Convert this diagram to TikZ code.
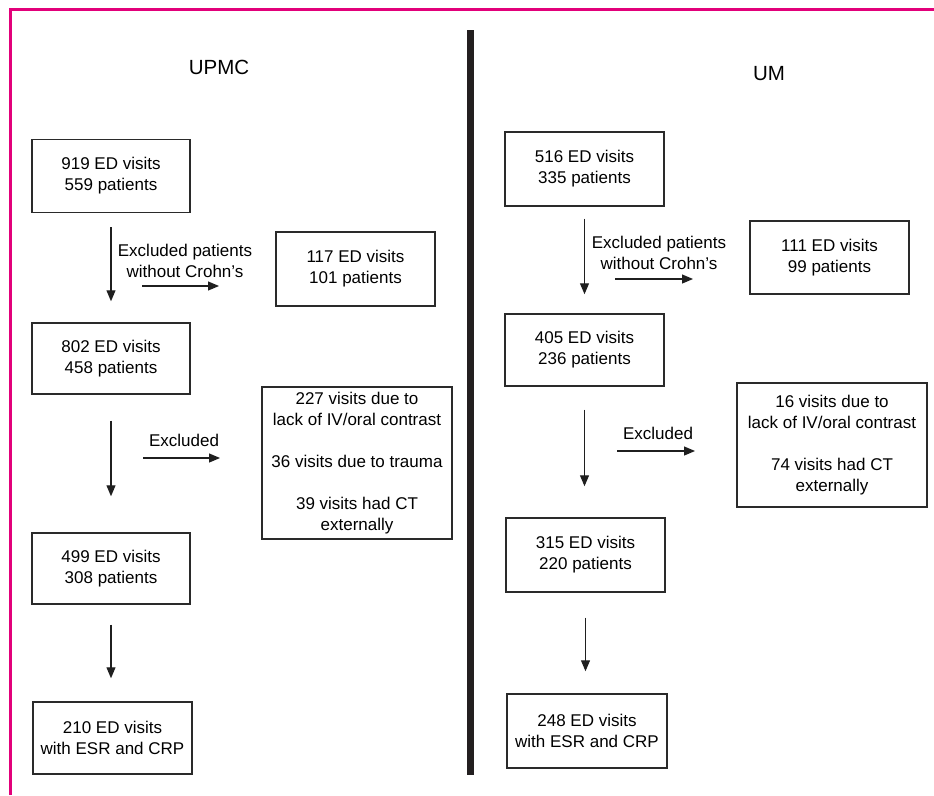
\documentclass[tikz,border=0pt]{standalone}
\usepackage{fontspec}
\setmainfont{Liberation Sans}
\usetikzlibrary{arrows.meta}
\definecolor{framepink}{HTML}{E2007A}
\definecolor{bardark}{HTML}{231F20}
\definecolor{boxline}{HTML}{2A2A2A}
\tikzset{
  flowbox/.style={draw=boxline, line width=1.5pt, minimum width=158pt, minimum height=73pt, inner sep=0pt, align=center, font=\fontsize{17}{21}\selectfont},
  bigbox/.style={flowbox, minimum width=190pt},
  lbl/.style={align=center, inner sep=0pt, font=\fontsize{17}{21}\selectfont},
  ttl/.style={inner sep=0pt, font=\fontsize{20.5}{24}\selectfont},
  arr/.style={-{Triangle[length=11pt,width=9pt]}, line width=1.2pt, draw=black!88, fill=black!88}
}
\begin{document}
\begin{tikzpicture}[x=1pt,y=-1pt]
\useasboundingbox (0,0) rectangle (934,795);
\fill[white] (0,0) rectangle (934,795);
% frame
\draw[framepink, line width=3pt] (10,795) -- (10,9) -- (934,9);
% divider
\fill[bardark] (466.5,30) rectangle (473.5,775);
% titles
\node[ttl] (tUPMC) at (219,67) {UPMC};
\node[ttl] (tUM) at (769,74) {UM};
% left column
\node[flowbox] (L1) at (111,176) {919 ED visits\\559 patients};
\node[flowbox, minimum width=159pt, minimum height=74pt] (L2) at (355.5,269) {117 ED visits\\101 patients};
\node[flowbox, minimum height=71pt] (L3) at (111,358.5) {802 ED visits\\458 patients};
\node[bigbox, minimum height=152pt] (L4) at (357,463) {227 visits due to\\lack of IV/oral contrast\\[21pt]36 visits due to trauma\\[21pt]39 visits had CT\\externally};
\node[flowbox, minimum height=71pt] (L5) at (111,568.5) {499 ED visits\\308 patients};
\node[flowbox, minimum width=159pt, minimum height=72pt] (L6) at (112.5,738) {210 ED visits\\with ESR and CRP};
% right column
\node[flowbox, minimum width=159pt, minimum height=74pt] (R1) at (584.5,169) {516 ED visits\\335 patients};
\node[flowbox, minimum width=159pt, minimum height=73pt] (R2) at (829.5,257.5) {111 ED visits\\99 patients};
\node[flowbox, minimum width=159pt, minimum height=72pt] (R3) at (584.5,350) {405 ED visits\\236 patients};
\node[bigbox, minimum height=124pt] (R4) at (832,445) {16 visits due to\\lack of IV/oral contrast\\[21pt]74 visits had CT\\externally};
\node[flowbox, minimum width=159pt, minimum height=74pt] (R5) at (585.5,555) {315 ED visits\\220 patients};
\node[flowbox, minimum width=160pt, minimum height=74pt] (R6) at (587,731) {248 ED visits\\with ESR and CRP};
% left arrows
\draw[arr, shorten <=14pt, shorten >=21pt] (L1.south) -- (L1.south |- L3.north);
\draw[arr, shorten <=26pt, shorten >=36pt] (L3.south) -- (L3.south |- L5.north);
\draw[arr, shorten <=20pt, shorten >=23pt] (L5.south) -- (L5.south |- L6.north);
\node[lbl] (lx1) at (185,260.5) {Excluded patients\\without Crohn's};
\coordinate (la1) at (142,286);
\coordinate (lb1) at (219,286);
\draw[arr] (la1) -- (lb1);
\node[lbl] (lx2) at (184,440) {Excluded};
\coordinate (la2) at (143,458);
\coordinate (lb2) at (220,458);
\draw[arr] (la2) -- (lb2);
% right arrows
\draw[arr, shorten <=12pt, shorten >=19pt] (R1.south) -- (R1.south |- R3.north);
\draw[arr, shorten <=23pt, shorten >=31pt] (R3.south) -- (R3.south |- R5.north);
\draw[arr, shorten <=25pt, shorten >=22pt] (R5.south) -- (R5.south |- R6.north);
\node[lbl] (rx1) at (659,253) {Excluded patients\\without Crohn's};
\coordinate (ra1) at (615,279);
\coordinate (rb1) at (693,279);
\draw[arr] (ra1) -- (rb1);
\node[lbl] (rx2) at (658,433) {Excluded};
\coordinate (ra2) at (617,451);
\coordinate (rb2) at (695,451);
\draw[arr] (ra2) -- (rb2);
\end{tikzpicture}
\end{document}
